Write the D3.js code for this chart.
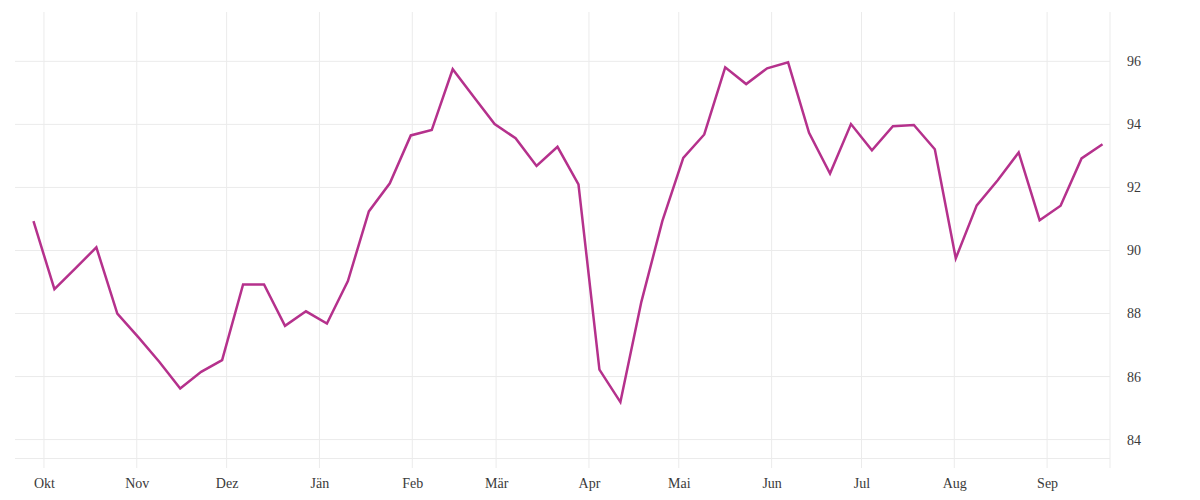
<!DOCTYPE html>
<html>
<head>
<meta charset="utf-8">
<script src="https://cdn.jsdelivr.net/npm/d3@7"></script>
<style>
  body { margin: 0; background: #fff; }
  svg text { font-family: "Liberation Serif", "DejaVu Serif", serif; fill: #3a3a3a; }
</style>
</head>
<body>
<div id="chart-wrap"></div>
<script>
const width = 1200;
const height = 500;
const margin = {top: 12, right: 90, bottom: 42, left: 15};

// weekly values, first week 2022-09-27 (midday)
const startDate = "2022-09-27 12";
const values = [
  90.93, 88.77, 89.43, 90.10, 88.00, 87.25, 86.47, 85.62, 86.15, 86.52,
  88.92, 88.92, 87.61, 88.07, 87.68, 89.03, 91.24, 92.13, 93.65, 93.82,
  95.75, 94.88, 94.01, 93.56, 92.68, 93.29, 92.10, 86.22, 85.19, 88.37,
  90.93, 92.94, 93.68, 95.81, 95.28, 95.78, 95.97, 93.73, 92.44, 94.01,
  93.18, 93.94, 93.98, 93.21, 89.75, 91.43, 92.23, 93.11, 90.96, 91.42,
  92.92, 93.37
];
const monthLabels = ["Okt", "Nov", "Dez", "Jän", "Feb", "Mär", "Apr", "Mai", "Jun", "Jul", "Aug", "Sep"];
const yTicks = [84, 86, 88, 90, 92, 94, 96];

const parse = d3.timeParse("%Y-%m-%d %H");
const data = values.map((v, i) => ({date: d3.timeDay.offset(parse(startDate), i * 7), value: v}));

const svg = d3.select('#chart-wrap')
    .append('svg')
    .attr('width', width)
    .attr('height', height);

const x = d3.scaleTime()
    .domain([new Date(2022, 8, 21, 8), new Date(2023, 8, 22)])
    .range([margin.left, width - margin.right]);

const y = d3.scaleLinear()
    .domain([83.4, 97.55])
    .range([height - margin.bottom + 0.5, margin.top + 0.5]);

const months = d3.timeMonth.range(new Date(2022, 9, 1), new Date(2023, 8, 2));

// grid
svg.append('g')
    .selectAll('line')
    .data(yTicks)
    .join('line')
        .attr('x1', x.range()[0])
        .attr('x2', x.range()[1])
        .attr('y1', d => y(d))
        .attr('y2', d => y(d))
        .attr('stroke', '#ebebeb');

svg.append('line')
    .attr('x1', x.range()[0])
    .attr('x2', x.range()[1])
    .attr('y1', y.range()[0])
    .attr('y2', y.range()[0])
    .attr('stroke', '#ebebeb');

svg.append('g')
    .selectAll('line')
    .data(months)
    .join('line')
        .attr('x1', d => x(d))
        .attr('x2', d => x(d))
        .attr('y1', margin.top)
        .attr('y2', height - margin.bottom + 10)
        .attr('stroke', '#ebebeb');

svg.append('line')
    .attr('x1', x.range()[1])
    .attr('x2', x.range()[1])
    .attr('y1', margin.top)
    .attr('y2', height - margin.bottom + 10)
    .attr('stroke', '#ebebeb');

// x axis
function xAxis(g){
    g.attr('transform', `translate(0, ${height - margin.bottom})`)
        .call(d3.axisBottom(x).tickValues(months).tickFormat((d, i) => monthLabels[i]).tickSize(0).tickPadding(20))
        .attr('font-size', 14)
        .call(g => g.select('.domain').remove());
}

// y axis
function yAxis(g){
    g.attr('transform', `translate(${x.range()[1]}, 0)`)
        .call(d3.axisRight(y).tickValues(yTicks).tickSize(0).tickPadding(17))
        .attr('font-size', 14)
        .call(g => g.select('.domain').remove());
}

svg.append('g').call(xAxis);
svg.append('g').call(yAxis);
svg.selectAll('.tick text').attr('fill', '#3a3a3a');

const line = d3.line()
    .x(d => x(d.date))
    .y(d => y(d.value));

svg.append('path')
    .datum(data)
    .attr('fill', 'none')
    .attr('stroke', '#b5318c')
    .attr('stroke-width', 2.5)
    .attr('stroke-linejoin', 'miter')
    .attr('d', line);
</script>
</body>
</html>
